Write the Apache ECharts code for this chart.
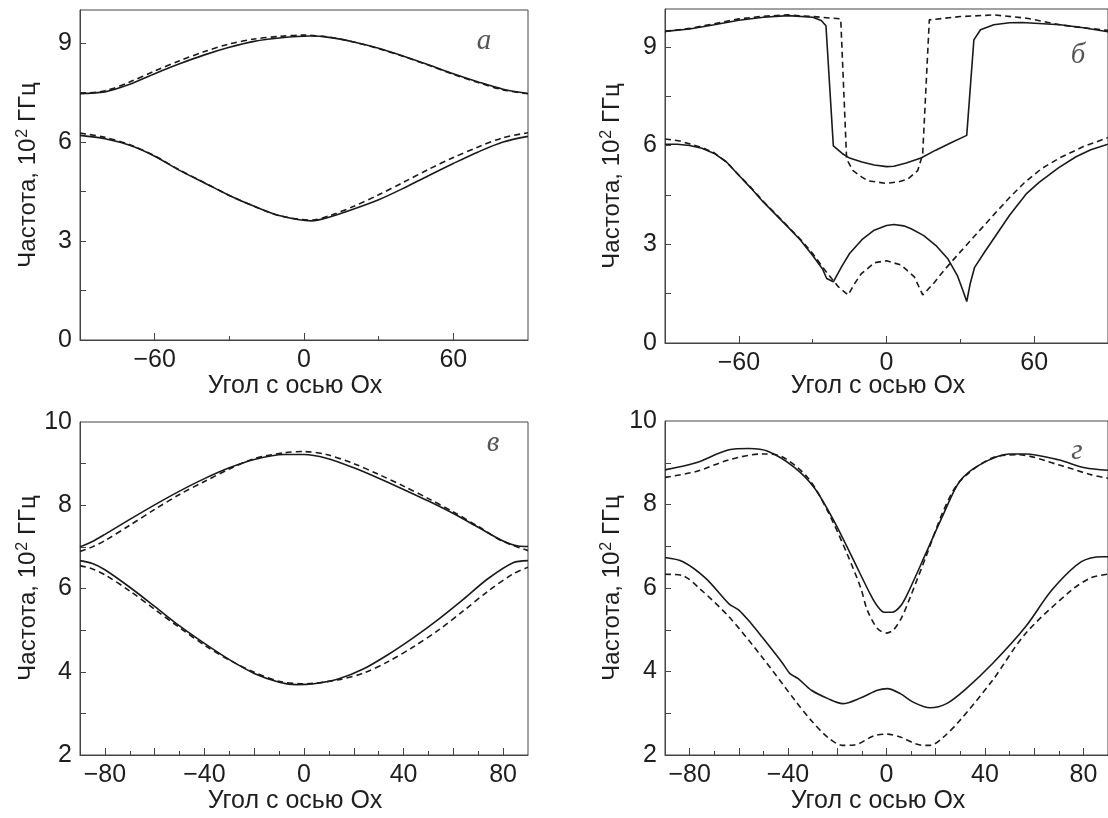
<!DOCTYPE html>
<html>
<head>
<meta charset="utf-8">
<script src="https://cdn.jsdelivr.net/npm/echarts@6/dist/echarts.min.js"></script>
<style>
html,body{margin:0;padding:0;background:#fff;}
#chart{width:1108px;height:818px;}
</style>
</head>
<body>
<div id="chart"></div>
<script>
// ---- tick / label values ----
const xTopLabels = [-60, 0, 60];
const xTopMajor = [-60, 0, 60];
const xTopMinor = [-30, 30];
const xBotLabels = [-80, -40, 0, 40, 80];
const xBotMajor = [-80, -60, -40, -20, 0, 20, 40, 60, 80];
const xBotMinor = [-70, -50, -30, -10, 10, 30, 50, 70];
const yTopLabels = [0, 3, 6, 9];
const yTopTicks = [1.5, 3, 4.5, 6, 7.5, 9];
const yBotLabels = [2, 4, 6, 8, 10];
const yBotTicks = [3, 4, 5, 6, 7, 8, 9];

const xTitle = 'Угол с осью Ох';
const panelLetters = ['а', 'б', 'в', 'г'];

// ---- panel а ----
const aUpperSolid = [[-90,7.47],[-80,7.52],[-70,7.75],[-60,8.07],[-50,8.37],[-40,8.64],[-30,8.87],[-20,9.05],[-10,9.15],[2.5,9.21],[10,9.17],[20,9.03],[30,8.84],[40,8.6],[50,8.34],[60,8.07],[70,7.82],[80,7.6],[90,7.47]];
const aUpperDashed = [[-90,7.47],[-80,7.55],[-70,7.82],[-60,8.15],[-50,8.46],[-40,8.74],[-30,8.97],[-20,9.12],[-10,9.2],[0,9.24],[10,9.18],[20,9.03],[30,8.83],[40,8.59],[50,8.33],[60,8.05],[70,7.8],[80,7.58],[90,7.46]];
const aLowerSolid = [[-90,6.2],[-80,6.1],[-70,5.9],[-60,5.57],[-50,5.14],[-40,4.76],[-30,4.38],[-20,4.05],[-10,3.77],[3,3.61],[10,3.72],[20,3.97],[30,4.25],[40,4.6],[50,4.98],[60,5.35],[70,5.7],[80,6.0],[90,6.17]];
const aLowerDashed = [[-90,6.27],[-80,6.14],[-70,5.92],[-60,5.58],[-50,5.15],[-40,4.77],[-30,4.38],[-20,4.05],[-10,3.77],[3,3.63],[10,3.76],[20,4.05],[30,4.4],[40,4.78],[50,5.17],[60,5.53],[70,5.85],[80,6.13],[90,6.28]];

// ---- panel б ----
const bUpperSolid = [[-90,9.47],[-80,9.54],[-70,9.67],[-60,9.81],[-50,9.9],[-40,9.95],[-30,9.9],[-26.5,9.8],[-24.6,9.64],[-21.6,5.99],[-18,5.76],[-15,5.62],[-10,5.5],[-5,5.41],[0,5.36],[3,5.37],[8,5.47],[14,5.62],[20,5.86],[26,6.08],[32.6,6.31],[35.5,9.21],[38.2,9.52],[43.6,9.67],[50,9.73],[55,9.74],[62,9.71],[70.5,9.67],[80,9.58],[90,9.46]];
const bUpperDashed = [[-90,9.47],[-80,9.56],[-70,9.7],[-60,9.85],[-50,9.93],[-40,9.97],[-30,9.92],[-18.6,9.85],[-16.2,5.59],[-13.6,5.24],[-10,5.04],[-7.5,4.93],[0,4.85],[5,4.9],[8.6,4.98],[12.7,5.24],[14.7,5.74],[17.4,9.82],[30,9.92],[43.6,9.97],[57,9.87],[70.5,9.67],[80,9.58],[90,9.5]];
const bLowerSolid = [[-90,6.04],[-85,6.04],[-80,6.0],[-75,5.92],[-70,5.76],[-65,5.5],[-60,5.1],[-55,4.7],[-50,4.28],[-45,3.9],[-40,3.52],[-35,3.13],[-30,2.66],[-26,2.25],[-24.3,1.96],[-21.6,1.86],[-18,2.35],[-15,2.72],[-10,3.14],[-5,3.43],[0,3.57],[3,3.6],[7,3.56],[10,3.47],[15,3.27],[20,2.97],[25,2.55],[28.8,2.05],[31,1.6],[32.6,1.26],[34,1.8],[35.8,2.3],[40,2.78],[44,3.22],[50,3.88],[57,4.55],[62,4.88],[70,5.33],[77,5.66],[83,5.87],[90,6.04]];
const bLowerDashed = [[-90,6.2],[-84,6.14],[-75,5.94],[-70,5.78],[-65,5.5],[-60,5.1],[-55,4.72],[-50,4.3],[-45,3.92],[-40,3.54],[-35,3.15],[-30,2.72],[-25,2.21],[-19.6,1.71],[-15.6,1.46],[-13,1.8],[-10.2,2.11],[-4.8,2.44],[0,2.5],[5.9,2.37],[11.3,2.01],[14.7,1.46],[19,1.8],[23.4,2.21],[30,2.77],[37,3.35],[43.6,3.9],[50,4.42],[56,4.87],[63,5.3],[70.5,5.63],[80,5.97],[90,6.24]];

// ---- panel в ----
const cUpperSolid = [[-90,7.0],[-85,7.13],[-80,7.3],[-70,7.66],[-60,8.01],[-50,8.34],[-40,8.64],[-30,8.9],[-20,9.1],[-8,9.22],[0,9.22],[9,9.13],[20,8.9],[30,8.65],[40,8.38],[50,8.1],[60,7.8],[70,7.47],[80,7.14],[86,7.02],[90,7.01]];
const cUpperDashed = [[-90,6.89],[-85,7.0],[-80,7.15],[-70,7.52],[-60,7.9],[-50,8.26],[-40,8.57],[-30,8.87],[-20,9.12],[-8,9.26],[0,9.29],[9,9.22],[20,9.0],[30,8.74],[40,8.46],[50,8.16],[60,7.84],[70,7.49],[80,7.13],[90,6.91]];
const cLowerSolid = [[-90,6.67],[-85,6.6],[-80,6.45],[-70,6.03],[-60,5.57],[-50,5.1],[-40,4.68],[-30,4.29],[-20,3.96],[-10,3.75],[-3,3.69],[4,3.71],[14,3.83],[24,4.07],[34,4.42],[44,4.82],[54,5.26],[64,5.74],[74,6.24],[84,6.62],[90,6.67]];
const cLowerDashed = [[-90,6.55],[-85,6.47],[-80,6.33],[-70,5.94],[-60,5.5],[-50,5.06],[-40,4.64],[-30,4.28],[-20,3.99],[-10,3.77],[0,3.71],[14,3.81],[24,3.97],[34,4.25],[44,4.6],[54,5.0],[64,5.46],[74,5.94],[84,6.35],[90,6.51]];

// ---- panel г ----
const dUpperSolid = [[-90,8.83],[-77.4,9.0],[-64,9.31],[-56,9.34],[-48,9.27],[-37.2,8.88],[-29.2,8.39],[-21.2,7.59],[-13.1,6.63],[-6.4,5.83],[-3.5,5.55],[-1,5.42],[2.3,5.42],[5.6,5.56],[8.3,5.83],[16.3,6.87],[23,7.75],[29.7,8.55],[37.8,8.95],[49.8,9.21],[56.5,9.21],[69.9,9.07],[80.6,8.88],[90,8.82]];
const dUpperDashed = [[-90,8.65],[-77.4,8.79],[-64,9.07],[-50.6,9.21],[-42.6,9.15],[-31.8,8.63],[-23.8,7.83],[-15.8,6.79],[-10.4,5.99],[-7.8,5.47],[-3.7,5.03],[0,4.92],[2.9,5.0],[6.3,5.31],[9.7,5.79],[16.3,6.79],[23,7.83],[29.7,8.55],[43.1,9.12],[53.8,9.19],[69.9,8.95],[83.3,8.71],[90,8.63]];
const dLowerSolid = [[-90,6.73],[-82.7,6.63],[-73.4,6.23],[-64,5.62],[-60,5.47],[-55,5.15],[-50.6,4.83],[-42.6,4.23],[-39.2,3.95],[-35.9,3.83],[-30.5,3.55],[-23.8,3.35],[-17.8,3.23],[-10.4,3.37],[-3.7,3.55],[0.3,3.59],[5.6,3.47],[11,3.26],[17.7,3.13],[24.4,3.23],[32.4,3.59],[43.1,4.19],[56.5,5.07],[67.2,5.95],[79.2,6.63],[88,6.75],[90,6.75]];
const dLowerDashed = [[-90,6.33],[-83,6.3],[-76,5.99],[-64,5.31],[-50.6,4.35],[-37.2,3.31],[-30.5,2.82],[-23.8,2.42],[-17.8,2.23],[-13,2.24],[-5.1,2.46],[0.3,2.5],[5.6,2.43],[13.7,2.24],[17.7,2.23],[23,2.42],[29.7,2.82],[43.1,3.79],[56.5,4.91],[75.2,5.95],[83.3,6.25],[90,6.33]];

// ---- layout ----
const FONT = '"Liberation Sans", Arial, sans-serif';
const AXIS_COLOR = '#444';
const TEXT_COLOR = '#1e1e1e';
const LINE_COLOR = '#1a1a1a';

const panels = [
  { grid: {left: 80, top: 10, width: 448, height: 330}, yMin: 0, yMax: 10, xl: xTopLabels, xM: xTopMajor, xm: xTopMinor, yl: yTopLabels, yt: yTopTicks,
    curves: [aUpperSolid, aUpperDashed, aLowerSolid, aLowerDashed], smooth: 0.3 },
  { grid: {left: 665, top: 9, width: 446, height: 334}, yMin: 0, yMax: 10.15, xl: xTopLabels, xM: xTopMajor, xm: xTopMinor, yl: yTopLabels, yt: yTopTicks,
    curves: [bUpperSolid, bUpperDashed, bLowerSolid, bLowerDashed], smooth: false },
  { grid: {left: 80, top: 422, width: 448, height: 333}, yMin: 2, yMax: 10, xl: xBotLabels, xM: xBotMajor, xm: xBotMinor, yl: yBotLabels, yt: yBotTicks,
    curves: [cUpperSolid, cUpperDashed, cLowerSolid, cLowerDashed], smooth: 0.3 },
  { grid: {left: 665, top: 421, width: 448, height: 334}, yMin: 2, yMax: 10, xl: xBotLabels, xM: xBotMajor, xm: xBotMinor, yl: yBotLabels, yt: yBotTicks,
    curves: [dUpperSolid, dUpperDashed, dLowerSolid, dLowerDashed], smooth: 0.3 }
];

const fmt = v => (v < 0 ? '\u2212' + Math.abs(v) : String(v));

const grid = [], xAxis = [], yAxis = [], series = [];
panels.forEach((p, i) => {
  grid.push(Object.assign({show: true, borderColor: AXIS_COLOR, borderWidth: 1, backgroundColor: 'transparent'}, p.grid));
  xAxis.push({
    gridIndex: i, type: 'value', min: -90, max: 90, position: 'bottom',
    axisLine: {show: true, onZero: false, lineStyle: {color: AXIS_COLOR, width: 1}},
    axisTick: {show: true, inside: true, length: 7, customValues: p.xM, lineStyle: {color: AXIS_COLOR, width: 1}},
    axisLabel: {show: true, customValues: p.xl, formatter: fmt, fontSize: 25, color: TEXT_COLOR, fontFamily: FONT, margin: 8},
    splitLine: {show: false}
  });
  xAxis.push({
    gridIndex: i, type: 'value', min: -90, max: 90, position: 'bottom',
    axisLine: {show: false, onZero: false},
    axisTick: {show: true, inside: true, length: 4, customValues: p.xm, lineStyle: {color: AXIS_COLOR, width: 1}},
    axisLabel: {show: false},
    splitLine: {show: false}
  });
  yAxis.push({
    gridIndex: i, type: 'value', min: p.yMin, max: p.yMax, position: 'left',
    axisLine: {show: true, onZero: false, lineStyle: {color: AXIS_COLOR, width: 1}},
    axisTick: {show: true, inside: true, length: 6, customValues: p.yt, lineStyle: {color: AXIS_COLOR, width: 1}},
    axisLabel: {show: true, customValues: p.yl, fontSize: 25, color: TEXT_COLOR, fontFamily: FONT, margin: 8},
    splitLine: {show: false}
  });
  p.curves.forEach((c, k) => {
    series.push({
      type: 'line', xAxisIndex: 2 * i, yAxisIndex: i, data: c,
      showSymbol: false, symbol: 'none', smooth: p.smooth, animation: false,
      lineStyle: {color: LINE_COLOR, width: 1.6, type: (k % 2 === 1) ? [6, 4] : 'solid'},
      z: 3
    });
  });
});

// titles and panel letters as real text
const yTitleRich = {
  a: {fontSize: 24, fontFamily: FONT, fill: TEXT_COLOR},
  s: {fontSize: 16, fontFamily: FONT, fill: TEXT_COLOR, padding: [0, 0, 10, 1]}
};
const yTitleText = '{a|Частота, 10}{s|2}{a| ГГц}';
const graphic = [];
[[295, 386], [878, 386], [295, 801], [878, 801]].forEach(([x, y]) => {
  graphic.push({type: 'text', x: x, y: y, style: {text: xTitle, font: '25px ' + FONT, fill: TEXT_COLOR, align: 'center', verticalAlign: 'middle'}});
});
[[28, 175], [612, 176], [28, 588], [612, 588]].forEach(([x, y]) => {
  graphic.push({type: 'text', x: x, y: y, rotation: Math.PI / 2,
    style: {text: yTitleText, rich: yTitleRich, fill: TEXT_COLOR, align: 'center', verticalAlign: 'middle'}});
});
[[484, 41], [1078, 55], [493, 443], [1077, 451]].forEach(([x, y], i) => {
  graphic.push({type: 'text', x: x, y: y,
    style: {text: panelLetters[i], font: 'italic 29px "Liberation Serif", "Times New Roman", serif', fill: '#555', align: 'center', verticalAlign: 'middle'}});
});

const chart = echarts.init(document.getElementById('chart'), null, {renderer: 'canvas'});
chart.setOption({
  animation: false,
  backgroundColor: '#fff',
  grid: grid, xAxis: xAxis, yAxis: yAxis, series: series, graphic: graphic
});
</script>
</body>
</html>
